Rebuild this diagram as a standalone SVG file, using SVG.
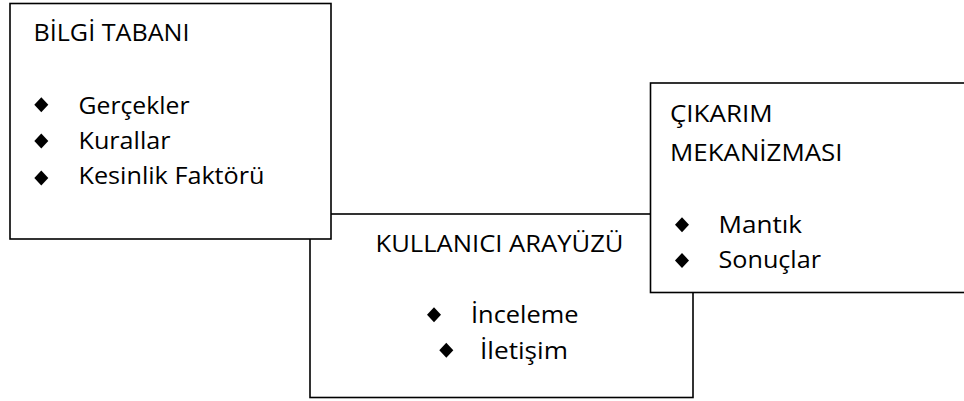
<svg xmlns="http://www.w3.org/2000/svg" width="964" height="401" viewBox="0 0 964 401">
<style>
.box{fill:#fff;stroke:#000;stroke-width:1.6}
.t{font-family:"Open Sans","Liberation Sans",Arial,sans-serif;font-size:23.5px;fill:#000}
</style>
<defs>
<polygon id="dia" points="0,-7.5 7,0 0,7.5 -7,0" fill="#000"/>
</defs>
<g id="kullanici-arayuzu">
<rect class="box" x="310" y="214" width="383" height="183.5"/>
<text class="t" x="375.5" y="251.7" textLength="248" lengthAdjust="spacingAndGlyphs">KULLANICI ARAYÜZÜ</text>
<use href="#dia" x="434" y="314.7"/>
<text class="t" x="471" y="322.5" textLength="107.5" lengthAdjust="spacingAndGlyphs">İnceleme</text>
<use href="#dia" x="446.3" y="350.3"/>
<text class="t" x="480" y="358.5" textLength="88" lengthAdjust="spacingAndGlyphs">İletişim</text>
</g>
<g id="bilgi-tabani">
<rect class="box" x="10" y="3.5" width="321" height="235.5"/>
<text class="t" x="33.5" y="40.7" textLength="156" lengthAdjust="spacingAndGlyphs">BİLGİ TABANI</text>
<use href="#dia" x="41.3" y="104.7"/>
<text class="t" x="78.5" y="113.5" textLength="111" lengthAdjust="spacingAndGlyphs">Gerçekler</text>
<use href="#dia" x="41.3" y="141"/>
<text class="t" x="78.5" y="149.3" textLength="92" lengthAdjust="spacingAndGlyphs">Kurallar</text>
<use href="#dia" x="41.3" y="178"/>
<text class="t" x="78.5" y="184" textLength="186" lengthAdjust="spacingAndGlyphs">Kesinlik Faktörü</text>
</g>
<g id="cikarim-mekanizmasi">
<rect class="box" x="650.5" y="83" width="330" height="209.5"/>
<text class="t" x="670" y="122" textLength="102.5" lengthAdjust="spacingAndGlyphs">ÇIKARIM</text>
<text class="t" x="670" y="161" textLength="172.5" lengthAdjust="spacingAndGlyphs">MEKANİZMASI</text>
<use href="#dia" x="682" y="224.7"/>
<text class="t" x="718.5" y="232.5" textLength="83.5" lengthAdjust="spacingAndGlyphs">Mantık</text>
<use href="#dia" x="682" y="260.5"/>
<text class="t" x="718.5" y="268" textLength="102.5" lengthAdjust="spacingAndGlyphs">Sonuçlar</text>
</g>
<g id="connectors"></g>
</svg>
